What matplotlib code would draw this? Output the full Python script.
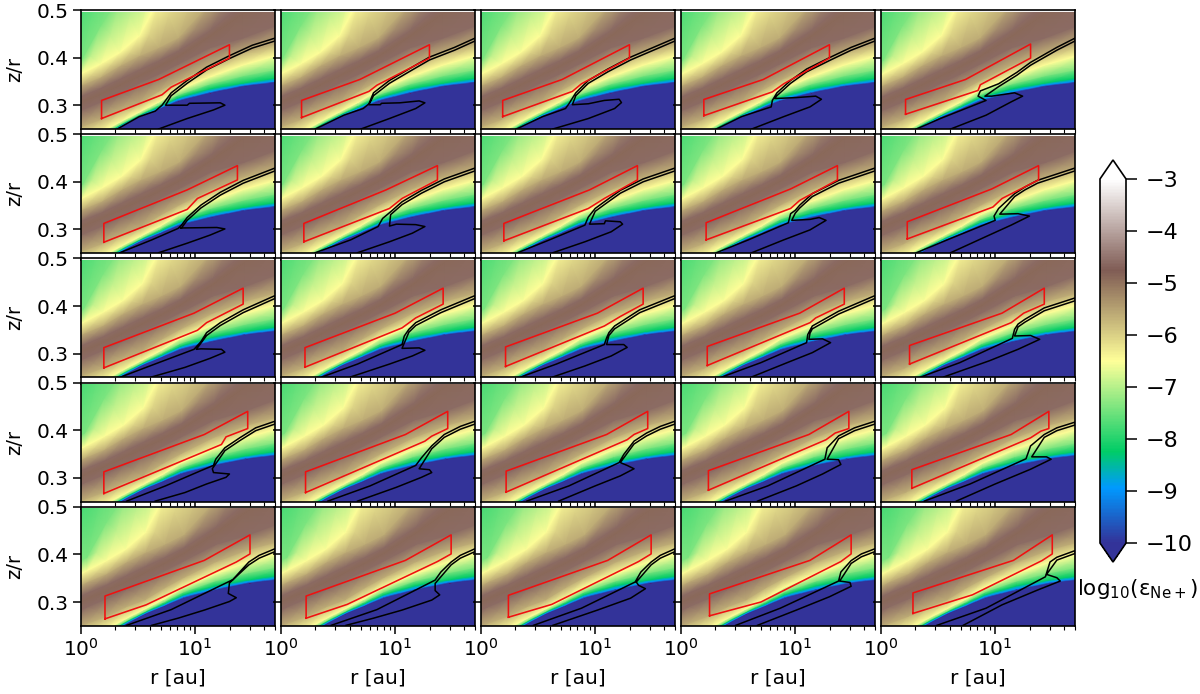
import numpy as np
import matplotlib
matplotlib.use('Agg')
import matplotlib.pyplot as plt

# log10(r) columns of the sampled field
field_lr = [-0.23, 0.0, 0.17, 0.34, 0.51, 0.68, 0.85, 1.13, 1.42, 1.70]
# log10(eps) of each level curve, bottom to top
field_levels = [-10, -10, -8.95, -8.25, -7.4, -6.5, -5.6, -4.6, -4.9, -4.6, -5.6, -6.5, -7.4, -7.75, -8.0]
# z/r height of each level curve along field_lr
field_z = [
    [0.10, 0.10, 0.10, 0.10, 0.10, 0.10, 0.10, 0.10, 0.10, 0.10],
    [.175, .205, .230, .2535, .275, .292, .309, .326, .340, .348],
    [.178, .208, .232, .2555, .277, .294, .312, .329, .343, .351],
    [.182, .212, .234, .258, .279, .297, .316, .335, .347, .357],
    [.187, .217, .236, .260, .281, .301, .322, .345, .362, .375],
    [.199, .227, .243, .265, .286, .307, .332, .360, .385, .404],
    [.227, .255, .270, .290, .305, .330, .352, .385, .411, .4285],
    [.262, .290, .307, .326, .347, .366, .387, .4215, .442, .467],
    [.279, .307, .324, .343, .3625, .382, .403, .446, .494, .536],
    [.292, .319, .336, .3556, .375, .394, .4146, .458, .515, .571],
    [.314, .342, .359, .383, .404, .4215, .442, .515, .6125, .682],
    [.338, .366, .387, .411, .446, .522, .578, .647, .717, .786],
    [.366, .394, .467, .529, .578, .619, .647, .717, .786, .856],
    [.467, .508, .578, .647, .717, .757, .786, .856, .925, .990],
    [1.2, 1.2, 1.2, 1.2, 1.2, 1.2, 1.2, 1.2, 1.2, 1.2],
]
field_shift_row = [0.0, 0.01, 0.02, 0.03, 0.05]
field_shift_col = [0.0, 0.0, 0.005, 0.01, 0.015]

# black contour per panel [row][col]: rise to the neck, upper wing, tail back down
rise = [
    [([.28, .51, .65, .71], [.245, .276, .2875, .30]),
     ([.30, .55, .72, .77], [.25, .279, .293, .303]),
     ([.31, .54, .74, .77], [.25, .276, .293, .303]),
     ([.31, .53, .79, .80], [.25, .276, .2965, .31]),
     ([.31, .52, .92, .85, .87], [.25, .272, .31, .319, .33])],
    [([.34, .62, .85], [.251, .278, .302]),
     ([.30, .61, .85, .89], [.251, .278, .306, .323]),
     ([.32, .60, .91, .94], [.251, .278, .309, .326]),
     ([.31, .59, .94, .96], [.251, .278, .314, .333]),
     ([.31, .58, 1.00, .99, 1.03], [.251, .278, .319, .328, .344])],
    [([.35, .68, .99, 1.05], [.251, .281, .309, .325]),
     ([.36, .67, 1.06, 1.08], [.251, .278, .319, .337]),
     ([.35, .66, 1.08, 1.10], [.251, .278, .319, .333]),
     ([.36, .70, 1.10, 1.11], [.251, .281, .323, .34]),
     ([.35, .69, 1.15, 1.17], [.251, .281, .332, .351])],
    [([.40, .74, 1.05, 1.16, 1.18], [.251, .283, .315, .326, .339]),
     ([.41, .78, 1.18, 1.23], [.251, .283, .326, .342]),
     ([.40, .77, 1.21, 1.25], [.251, .283, .332, .349]),
     ([.39, .76, 1.26, 1.28], [.251, .283, .339, .363]),
     ([.38, .78, 1.27, 1.31], [.251, .287, .34, .367])],
    [([.40, .79, 1.33, 1.39], [.251, .284, .347, .363]),
     ([.44, .84, 1.35, 1.40], [.251, .284, .346, .363]),
     ([.46, .88, 1.35, 1.40], [.251, .287, .342, .363]),
     ([.48, .87, 1.38, 1.40], [.251, .287, .344, .363]),
     ([.49, .92, 1.44, 1.48], [.251, .287, .353, .384])],
]
wing = [
    [([.79, .93, 1.10, 1.30, 1.50, 1.70], [.326, .352, .380, .404, .426, .441]),
     ([.81, .95, 1.12, 1.30, 1.52, 1.70], [.326, .352, .376, .401, .4215, .441]),
     ([.83, .94, 1.11, 1.31, 1.51, 1.70], [.326, .352, .376, .401, .4215, .441]),
     ([.84, .96, 1.10, 1.31, 1.49, 1.70], [.326, .352, .376, .401, .4215, .441]),
     ([1.03, 1.19, 1.31, 1.54, 1.70], [.345, .369, .39, .4215, .441])],
    [([.88, .93, 1.05, 1.22, 1.42, 1.70], [.309, .325, .351, .378, .403, .429]),
     ([.96, 1.06, 1.23, 1.43, 1.70], [.337, .358, .382, .406, .429]),
     ([1.00, 1.08, 1.22, 1.42, 1.70], [.344, .358, .382, .406, .429]),
     ([1.00, 1.04, 1.15, 1.38, 1.70], [.34, .351, .375, .403, .429]),
     ([1.17, 1.26, 1.37, 1.70], [.375, .389, .403, .429])],
    [([1.10, 1.22, 1.42, 1.70], [.344, .365, .392, .422]),
     ([1.12, 1.18, 1.40, 1.70], [.351, .365, .392, .422]),
     ([1.12, 1.17, 1.39, 1.70], [.344, .358, .392, .422]),
     ([1.13, 1.15, 1.38, 1.70], [.349, .358, .389, .422]),
     ([1.20, 1.26, 1.43, 1.70], [.362, .372, .396, .417])],
    [([1.26, 1.39, 1.53, 1.70], [.363, .384, .405, .419]),
     ([1.32, 1.43, 1.57, 1.70], [.367, .391, .408, .419]),
     ([1.34, 1.45, 1.57, 1.70], [.377, .394, .408, .419]),
     ([1.38, 1.52, 1.70], [.388, .405, .419]),
     ([1.43, 1.54, 1.70], [.391, .405, .417])],
    [([1.47, 1.56, 1.70], [.384, .398, .412]),
     ([1.49, 1.57, 1.70], [.384, .398, .412]),
     ([1.49, 1.57, 1.70], [.384, .398, .412]),
     ([1.49, 1.58, 1.70], [.387, .401, .412]),
     ([1.54, 1.70], [.394, .408])],
]
tail = [
    [([.74, .93, .95, 1.22, 1.26, 1.16, .93, .68], [.30, .30, .304, .305, .30, .29, .272, .25]),
     ([.77, .87, .88, 1.04, 1.21, 1.26, 1.18, .95, .70], [.301, .301, .304, .305, .309, .305, .293, .272, .25]),
     ([.80, .94, 1.08, 1.21, 1.23, 1.17, .94, .63], [.301, .303, .310, .3125, .3055, .293, .272, .25]),
     ([.82, 1.01, 1.18, 1.23, 1.13, .90, .62], [.314, .316, .319, .3125, .2965, .276, .25]),
     ([.91, .97, 1.17, 1.24, 1.14, .92, .61], [.319, .319, .326, .319, .307, .279, .25])],
    [([.87, 1.19, 1.26, 1.13, .93, .68], [.303, .304, .301, .288, .271, .251]),
     ([.95, 1.01, 1.18, 1.26, 1.15, .95, .67], [.307, .311, .310, .306, .292, .274, .251]),
     ([.95, 1.08, 1.09, 1.22, 1.24, 1.14, .91, .63], [.311, .312, .318, .316, .311, .295, .274, .251]),
     ([.97, 1.13, 1.21, 1.27, 1.13, .90, .62], [.319, .321, .325, .319, .299, .278, .251]),
     ([1.04, 1.20, 1.30, 1.14, .92, .61], [.332, .333, .328, .309, .285, .251])],
    [([1.01, 1.05, 1.23, 1.26, 1.13, .91, .62], [.309, .310, .309, .303, .29, .271, .251]),
     ([1.06, 1.21, 1.26, 1.15, .95, .61], [.311, .312, .307, .295, .278, .251]),
     ([1.10, 1.25, 1.28, 1.14, .91, .63], [.319, .319, .313, .295, .274, .251]),
     ([1.12, 1.24, 1.31, 1.15, .93, .62], [.33, .331, .323, .302, .281, .251]),
     ([1.17, 1.31, 1.39, 1.20, .95, .55], [.337, .338, .33, .309, .285, .251])],
    [([1.15, 1.16, 1.30, 1.27, 1.10, .91, .65], [.319, .311, .308, .301, .287, .269, .251]),
     ([1.21, 1.30, 1.32, 1.23, 1.01, .67], [.319, .317, .311, .301, .28, .251]),
     ([1.22, 1.28, 1.34, 1.22, 1.00, .68], [.332, .326, .319, .304, .283, .251]),
     ([1.28, 1.38, 1.40, 1.24, 1.01, .67], [.339, .338, .328, .308, .283, .251]),
     ([1.32, 1.45, 1.49, 1.31, 1.00, .66], [.344, .344, .339, .318, .287, .251])],
    [([1.30, 1.29, 1.36, 1.30, 1.08, .85, .62], [.34, .318, .309, .301, .283, .266, .251]),
     ([1.35, 1.35, 1.39, 1.32, 1.06, .81, .57], [.339, .324, .315, .304, .283, .266, .251]),
     ([1.36, 1.38, 1.44, 1.31, 1.02, .63], [.342, .335, .328, .308, .283, .251]),
     ([1.39, 1.48, 1.49, 1.30, 1.01, .67], [.344, .341, .333, .311, .283, .251]),
     ([1.45, 1.54, 1.57, 1.37, 1.06, .72], [.358, .351, .344, .325, .294, .251])],
]
wing_gap = 0.006

# red region per panel: lower left, upper left, upper middle, upper right, lower right, two lower edge points
box = [
    [([.18, .18, .68, 1.30, 1.30, .79, .71], [.272, .31, .354, .427, .399, .338, .322]),
     ([.18, .18, .69, 1.30, 1.30, .84, .77], [.274, .31, .354, .427, .399, .342, .329]),
     ([.19, .19, .71, 1.30, 1.30, .88, .80], [.276, .31, .354, .427, .399, .345, .329]),
     ([.20, .20, .72, 1.30, 1.30, .90, .80], [.278, .312, .354, .427, .399, .345, .328]),
     ([.215, .215, .74, 1.31, 1.31, .87, .85], [.281, .312, .354, .4285, .399, .343, .331])],
    [([.20, .20, .93, 1.37, 1.37, 1.02, .93], [.273, .3125, .383, .434, .404, .365, .342]),
     ([.20, .20, .92, 1.37, 1.37, 1.06, .95], [.274, .3125, .383, .434, .404, .365, .344]),
     ([.20, .20, .95, 1.37, 1.37, 1.08, .94], [.276, .3125, .383, .434, .404, .365, .344]),
     ([.22, .22, .96, 1.37, 1.37, 1.04, .96], [.278, .314, .385, .434, .404, .361, .344]),
     ([.23, .23, .97, 1.38, 1.38, 1.06, .98], [.28, .316, .385, .434, .404, .365, .347])],
    [([.20, .20, .99, 1.42, 1.42, 1.10, 1.02], [.27, .3125, .385, .4375, .404, .365, .349]),
     ([.21, .21, 1.00, 1.42, 1.42, 1.18, 1.06], [.2715, .3125, .385, .4375, .404, .375, .354]),
     ([.215, .215, 1.02, 1.42, 1.42, 1.22, 1.08], [.273, .314, .385, .4375, .404, .378, .358]),
     ([.23, .23, 1.04, 1.43, 1.43, 1.18, 1.13], [.275, .315, .385, .4375, .404, .375, .365]),
     ([.25, .25, 1.06, 1.43, 1.43, 1.25, 1.14], [.278, .317, .385, .4375, .404, .385, .365])],
    [([.20, .20, 1.08, 1.46, 1.46, 1.27, 1.23], [.267, .3125, .391, .4396, .4035, .386, .37]),
     ([.215, .215, 1.09, 1.46, 1.46, 1.32, 1.26], [.269, .3125, .391, .4396, .4035, .3875, .377]),
     ([.22, .22, 1.10, 1.46, 1.46, 1.34, 1.28], [.27, .314, .391, .4396, .4035, .391, .38]),
     ([.24, .24, 1.12, 1.47, 1.47, 1.35, 1.27], [.274, .315, .391, .4396, .4035, .394, .38]),
     ([.27, .27, 1.14, 1.47, 1.47, 1.40, 1.31], [.278, .317, .391, .4396, .4035, .398, .384])],
    [([.21, .21, 1.08, 1.48, 1.48, 1.36, .57], [.2646, .3125, .3875, .441, .401, .384, .294]),
     ([.22, .22, 1.09, 1.49, 1.49, 1.37, .58], [.266, .3125, .3875, .441, .401, .385, .295]),
     ([.24, .24, 1.11, 1.49, 1.49, 1.38, .62], [.268, .314, .3875, .441, .401, .385, .295]),
     ([.25, .25, 1.13, 1.49, 1.49, 1.40, .70], [.271, .317, .3875, .441, .401, .385, .300]),
     ([.28, .28, 1.16, 1.50, 1.50, 1.41, .80], [.276, .319, .3875, .441, .401, .387, .315])],
]

W, H = 1200, 694
fig = plt.figure(figsize=(W / 100, H / 100), dpi=100)
plt.rcParams['mathtext.fontset'] = 'dejavusans'

lr = np.array(field_lr)
Y = np.array(field_z)
C = np.array(field_levels)[:, None] * np.ones((1, len(lr)))

for i in range(5):
    for j in range(5):
        left = 81 + 200 * j
        top = 10 + 124.2 * i
        ax = fig.add_axes([left / W, 1 - (top + 119) / H, 194 / W, 119 / H])
        X = 10 ** (lr + field_shift_row[i] + field_shift_col[j]) * np.ones_like(Y)
        mesh = ax.pcolormesh(X, Y, C, shading='gouraud', cmap='terrain', vmin=-10, vmax=-3)

        # top strip where the model grid stops
        ax.axhspan(0.4965, 0.5, color='#f8f6f5', lw=0, zorder=2)

        wl, wz = wing[i][j]
        cont_lr = rise[i][j][0] + wl + wl[::-1] + tail[i][j][0]
        cont_z = rise[i][j][1] + wz + [z - wing_gap for z in wz[::-1]] + tail[i][j][1]
        ax.plot(10 ** np.array(cont_lr), cont_z, color='k', lw=1.1, zorder=3)

        bl, bz = box[i][j]
        ax.plot(10 ** np.array(bl + bl[:1]), bz + bz[:1], color='#f01010', lw=1.15, zorder=4)

        ax.set_xscale('log')
        ax.set_xlim(1, 50)
        ax.set_ylim(0.25, 0.5)
        ax.set_yticks([0.3, 0.4, 0.5])
        ax.tick_params(which='major', length=5.5, width=1.1, labelsize=14.5)
        ax.tick_params(which='minor', length=3, width=0.8)
        for s in ax.spines.values():
            s.set_linewidth(1.2)
        if j == 0:
            ax.set_ylabel('z/r', fontsize=14, labelpad=9)
        else:
            ax.tick_params(labelleft=False)
        if i == 4:
            ax.set_xlabel('r [au]', fontsize=14.5, labelpad=6)
        else:
            ax.tick_params(which='both', labelbottom=False)

cax = fig.add_axes([1100 / W, 1 - 562 / H, 26 / W, 402 / H])
cb = fig.colorbar(mesh, cax=cax, extend='both', extendfrac=0.052)
cb.set_ticks([-3, -4, -5, -6, -7, -8, -9, -10])
cb.ax.tick_params(length=8, width=1.1, labelsize=16, pad=6)
cb.outline.set_linewidth(1.2)
fig.text(1138 / W, 1 - 589 / H, r'$\mathrm{log_{10}(ε_{Ne+})}$', fontsize=15.5, ha='center', va='center')

fig.savefig('out.png', dpi=100)
